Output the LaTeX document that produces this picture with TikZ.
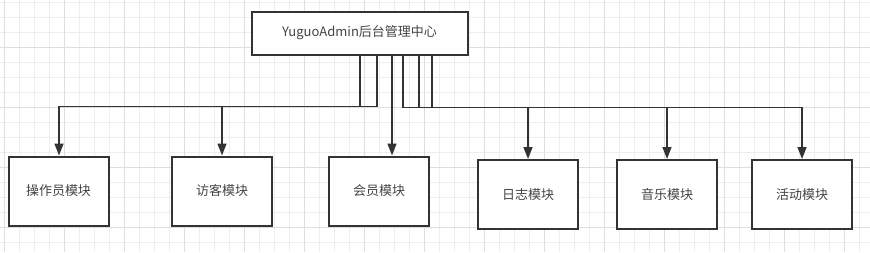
\documentclass[tikz,border=0pt]{standalone}
\usepackage{fontspec}
\newfontfamily\cjk{Noto Sans CJK SC}
\usepackage{xcolor}
\definecolor{gridminor}{RGB}{238,238,238}
\definecolor{gridmajor}{RGB}{222,222,222}
\definecolor{inkgray}{RGB}{51,51,51}
\definecolor{textgray}{RGB}{68,68,68}
\usetikzlibrary{arrows.meta,positioning}

\begin{document}
\begin{tikzpicture}[
  x=1pt, y=-1pt,
  module/.style={
    draw=inkgray, line width=2pt, minimum width=100pt,
    minimum height=69pt, text=textgray, inner sep=0pt,
    font=\cjk\fontsize{13}{15}\selectfont
  },
  center/.style={
    module, minimum width=216pt, minimum height=43pt
  },
  arr/.style={-{Triangle[length=12pt,width=9pt]}, line width=1.6pt, inkgray},
]
\useasboundingbox (0,0) rectangle (870,252);

% background grid
\foreach \gx in {4,19,...,870} \draw[gridminor, line width=0.8pt] (\gx,0) -- (\gx,252);
\foreach \gy in {2,17,...,252} \draw[gridminor, line width=0.8pt] (0,\gy) -- (870,\gy);
\foreach \gx in {4,64,...,870} \draw[gridmajor, line width=0.8pt] (\gx,0) -- (\gx,252);
\foreach \gy in {47,107,...,252} \draw[gridmajor, line width=0.8pt] (0,\gy) -- (870,\gy);

\node[center, fill=white] (top) at (359.5,33) {YuguoAdmin后台管理中心};

\node[module, fill=white] (oper)  at (58.5,191) {操作员模块};
\node[module, fill=white] (guest) at (222,191)  {访客模块};
\node[module, fill=white] (member) at (379,191) {会员模块};
\node[module, fill=white] (log)   at (528,194.5) {日志模块};
\node[module, fill=white] (music) at (667,194.5) {音乐模块};
\node[module, fill=white] (event) at (802,194.5) {活动模块};

% left branches
\draw[arr] ([xshift=0.5pt]top.south)  -- ++(0,51) -| ([xshift=0.5pt]oper.north);
\draw[arr] ([xshift=17.5pt]top.south) -- ++(0,51) -| (guest.north);
\draw[arr] ([xshift=32.5pt]top.south) -- ([xshift=13pt]member.north);

% right branches
\draw[arr] ([xshift=43.5pt]top.south) -- ++(0,52) -| (log.north);
\draw[arr] ([xshift=59.5pt]top.south) -- ++(0,52) -| (music.north);
\draw[arr] ([xshift=72.5pt]top.south) -- ++(0,52) -| (event.north);

\end{tikzpicture}
\end{document}
